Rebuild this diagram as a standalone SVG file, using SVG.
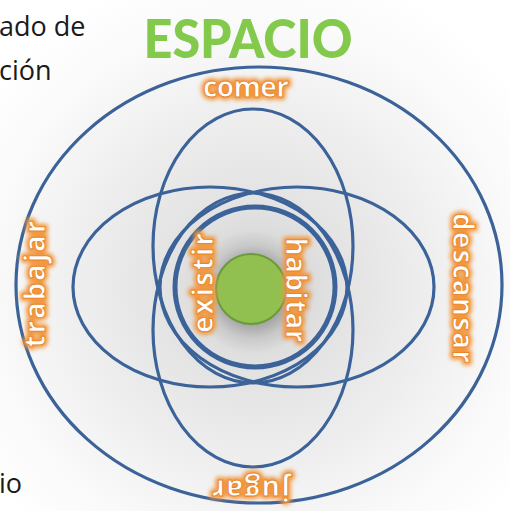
<svg xmlns="http://www.w3.org/2000/svg" width="510" height="511" viewBox="0 0 510 511">
<defs>
<radialGradient id="bg" cx="255" cy="288" r="330" gradientUnits="userSpaceOnUse">
<stop offset="0" stop-color="#cfcfcf"/>
<stop offset="0.25" stop-color="#e2e2e2"/>
<stop offset="0.55" stop-color="#efefef"/>
<stop offset="0.8" stop-color="#fafafa"/>
<stop offset="1" stop-color="#ffffff"/>
</radialGradient>
<radialGradient id="shadow" cx="253" cy="292" r="62" gradientUnits="userSpaceOnUse">
<stop offset="0.5" stop-color="#000" stop-opacity="0.25"/>
<stop offset="0.75" stop-color="#000" stop-opacity="0.08"/>
<stop offset="1" stop-color="#000" stop-opacity="0"/>
</radialGradient>
<filter id="glow" x="-20%" y="-50%" width="140%" height="200%">
<feGaussianBlur stdDeviation="2"/>
</filter>
</defs>
<style>
.ring{fill:none;stroke:#3b6399;stroke-width:3.2}
.lbl{font-family:"Open Sans","Noto Sans",sans-serif;font-weight:700;font-size:28px;text-anchor:middle}
.halo{fill:#f2963c;stroke:#f2963c;stroke-width:6;stroke-linejoin:round}
.face{fill:#ffffff;stroke:#e8862a;stroke-width:0.9}
.side{font-family:"Open Sans","Noto Sans",sans-serif;font-size:27px;fill:#1a1a1a}
</style>
<rect width="510" height="511" fill="url(#bg)"/>

<g id="side-texts">
<text class="side" x="-1" y="36">ado de</text>
<text class="side" x="-1" y="80">ción</text>
<text class="side" x="-1" y="493">io</text>
</g>

<g id="title">
<text x="248" y="58" font-family="Lato,sans-serif" font-weight="900" font-size="54" text-anchor="middle" textLength="209" lengthAdjust="spacingAndGlyphs" fill="#82c94c">ESPACIO</text>
</g>

<g id="connectors">
<ellipse id="outer" class="ring" cx="259" cy="285" rx="243" ry="218" stroke-width="3.5"/>
<ellipse id="ell-top" class="ring" cx="253" cy="246" rx="100" ry="137"/>
<ellipse id="ell-bottom" class="ring" cx="253" cy="330" rx="100" ry="137"/>
<ellipse id="ell-left" class="ring" cx="210" cy="287" rx="137" ry="100"/>
<ellipse id="ell-right" class="ring" cx="297" cy="287" rx="137" ry="100"/>
</g>

<g id="inner-ring">
<circle cx="255" cy="287" r="80" fill="none" stroke="#3b6399" stroke-width="5"/>
</g>

<g id="core">
<circle cx="253" cy="292" r="62" fill="url(#shadow)"/>
<circle cx="251" cy="289" r="35" fill="#92c050" stroke="#6a9a3a" stroke-width="2"/>
</g>

<g id="comer">
<text class="lbl halo" x="246" y="97" textLength="86" lengthAdjust="spacing" filter="url(#glow)">comer</text>
<text class="lbl face" x="246" y="97" textLength="86" lengthAdjust="spacing">comer</text>
</g>
<g id="descansar" transform="translate(453,288) rotate(90)">
<text class="lbl halo" x="0" y="0" textLength="150" lengthAdjust="spacing" filter="url(#glow)">descansar</text>
<text class="lbl face" x="0" y="0" textLength="150" lengthAdjust="spacing">descansar</text>
</g>
<g id="trabajar" transform="translate(45,284) rotate(-90)">
<text class="lbl halo" x="0" y="0" textLength="127" lengthAdjust="spacing" filter="url(#glow)">trabajar</text>
<text class="lbl face" x="0" y="0" textLength="127" lengthAdjust="spacing">trabajar</text>
</g>
<g id="existir" transform="translate(213,283) rotate(-90)">
<text class="lbl halo" x="0" y="0" textLength="100" lengthAdjust="spacing" filter="url(#glow)">existir</text>
<text class="lbl face" x="0" y="0" textLength="100" lengthAdjust="spacing">existir</text>
</g>
<g id="habitar" transform="translate(286,290) rotate(90)">
<text class="lbl halo" x="0" y="0" textLength="105" lengthAdjust="spacing" filter="url(#glow)">habitar</text>
<text class="lbl face" x="0" y="0" textLength="105" lengthAdjust="spacing">habitar</text>
</g>
<g id="jugar" transform="translate(251,480) rotate(180)">
<text class="lbl halo" x="0" y="0" textLength="78" lengthAdjust="spacing" filter="url(#glow)">jugar</text>
<text class="lbl face" x="0" y="0" textLength="78" lengthAdjust="spacing">jugar</text>
</g>
</svg>
